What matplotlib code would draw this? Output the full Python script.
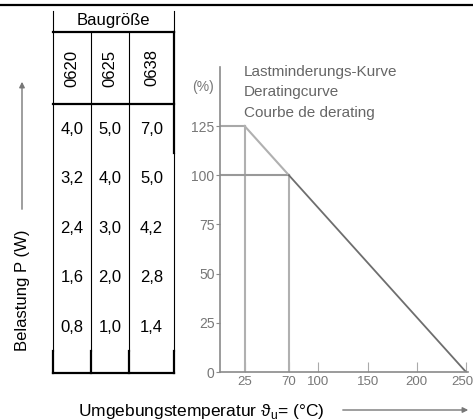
import matplotlib
matplotlib.use("Agg")
import matplotlib.pyplot as plt
from matplotlib.transforms import ScaledTranslation

plt.rcParams['font.family'] = ['Liberation Sans', 'DejaVu Sans']
plt.rcParams['mathtext.fontset'] = 'custom'
plt.rcParams['mathtext.rm'] = 'Liberation Sans'

# table data
sizes = ["0620", "0625", "0638"]
load_0620 = [4.0, 3.2, 2.4, 1.6, 0.8]
load_0625 = [5.0, 4.0, 3.0, 2.0, 1.0]
load_0638 = [7.0, 5.0, 4.2, 2.8, 1.4]
loads = [load_0620, load_0625, load_0638]

# derating curve
curve_temp = [25, 70, 250]
curve_pct = [125, 100, 0]
x_ticks = [25, 70, 100, 150, 200, 250]
y_ticks = [0, 25, 50, 75, 100, 125]
legend_lines = ["Lastminderungs-Kurve", "Deratingcurve", "Courbe de derating"]

W, H = 473, 419
fig = plt.figure(figsize=(W / 100, H / 100), dpi=100)

# overlay in pixel coords for the table and labels
bg = fig.add_axes([0, 0, 1, 1])
bg.set_xlim(0, W)
bg.set_ylim(H, 0)
bg.axis("off")

thin = 0.8
thick = 1.6
k = "black"
bg.plot([0, W], [5, 5], color=k, lw=thick)

col_x = [53, 91, 129, 174]
bg.plot([53, 53], [11, 351], color=k, lw=thin)
bg.plot([174, 174], [11, 32], color=k, lw=thin)
bg.plot([174, 174], [32, 153], color=k, lw=thick)
bg.plot([174, 174], [153, 351], color=k, lw=thin)
for cx in col_x[1:3]:
    bg.plot([cx, cx], [32, 351], color=k, lw=thin)
for cx in col_x:
    bg.plot([cx, cx], [351, 373], color=k, lw=thick)
bg.plot([53, 174], [32, 32], color=k, lw=thick)
bg.plot([53, 174], [104, 104], color=k, lw=thick)
bg.plot([53, 174], [373, 373], color=k, lw=thick)

bg.text(113.5, 20, "Baugröße", ha="center", va="center", fontsize=12)
for i, s in enumerate(sizes):
    cx = (col_x[i] + col_x[i + 1]) / 2
    bg.text(cx, 68, s, ha="center", va="center", fontsize=12, rotation=90)
    for j, v in enumerate(loads[i]):
        bg.text(cx, 129 + 49.5 * j, f"{v:.1f}".replace(".", ","),
                ha="center", va="center", fontsize=12)

# left arrow and label
bg.annotate("", xy=(22, 79), xytext=(22, 212),
            arrowprops=dict(arrowstyle="-|>", color="#777777", lw=1.0,
                            mutation_scale=8))
bg.text(22, 290, "Belastung P (W)", rotation=90, ha="center", va="center",
        fontsize=12)

# bottom label and arrow
bg.text(78, 411, "Umgebungstemperatur ϑ$_\\mathrm{u}$= (°C)", ha="left",
        va="center", fontsize=12.5)
bg.annotate("", xy=(471, 410), xytext=(340, 410),
            arrowprops=dict(arrowstyle="-|>", color="#777777", lw=1.0,
                            mutation_scale=8))

# derating chart
ax = fig.add_axes([220 / W, 1 - 372 / H, 248 / W, 305 / H])
ax.patch.set_alpha(0)
ax.set_xlim(0, 252)
ax.set_ylim(0, 155)
for sp in ["top", "right"]:
    ax.spines[sp].set_visible(False)
for sp in ["left", "bottom"]:
    ax.spines[sp].set_color("#8a8a8a")
    ax.spines[sp].set_linewidth(1.2)

ax.plot([0, curve_temp[0]], [curve_pct[0]] * 2, color="#a8a8a8", lw=1.5)
ax.plot([curve_temp[0]] * 2, [0, curve_pct[0]], color="#b0b0b0", lw=1.5)
ax.plot([0, curve_temp[1]], [curve_pct[1]] * 2, color="#999999", lw=1.5)
ax.plot([curve_temp[1]] * 2, [0, curve_pct[1]], color="#b0b0b0", lw=1.5)
ax.plot(curve_temp[:2], curve_pct[:2], color="#b0b0b0", lw=1.5)
ax.plot(curve_temp[1:], curve_pct[1:], color="#6e6e6e", lw=1.3)

ax.set_xticks(x_ticks)
ax.set_yticks(y_ticks)
ax.tick_params(axis="x", direction="in", length=7, color="#aaaaaa",
               labelsize=9.5, labelcolor="#777777", pad=3)
ax.tick_params(axis="y", direction="out", length=3, color="#8a8a8a",
               labelsize=10, labelcolor="#777777", pad=1)
last = ax.get_xticklabels()[-1]
last.set_transform(last.get_transform() +
                   ScaledTranslation(-4 / 100, 0, fig.dpi_scale_trans))
ax.text(-28, 145, "(%)", fontsize=10, color="#777777", ha="left",
        va="center")
for i, line in enumerate(legend_lines):
    ax.text(24, 155 - 2.4 - i * 10.4, line, fontsize=11, color="#666666",
            ha="left", va="center")

fig.savefig("out.png", dpi=100)
